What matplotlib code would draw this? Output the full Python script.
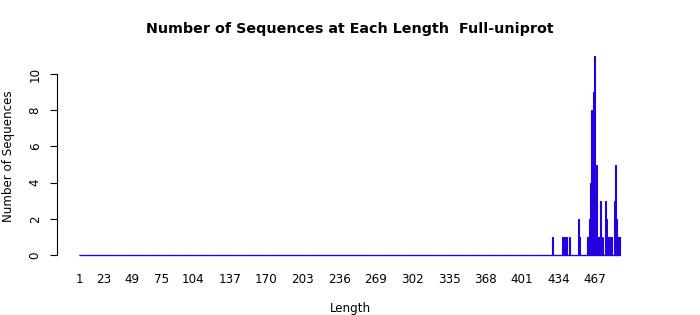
import numpy as np
import matplotlib
matplotlib.use('Agg')
import matplotlib.pyplot as plt

# sequence lengths that occur, and how many sequences have each length
lengths = [428, 437, 438, 439, 441, 444, 452, 453, 460, 461, 462, 463, 464,
           465, 466, 467, 468, 469, 470, 471, 472, 473, 474, 476, 477, 478,
           479, 480, 481, 482, 484, 485, 486, 487, 488, 489]
counts = [1, 1, 1, 1, 1, 1, 2, 1, 1, 1, 2, 4, 8,
          9, 11, 3, 5, 1, 1, 1, 3, 1, 1, 3, 2, 1,
          1, 1, 1, 1, 3, 5, 2, 1, 1, 1]
max_len = 489

# tick labels kept by the original barplot
xtick_labels = [1, 23, 49, 75, 104, 137, 170, 203, 236, 269, 302, 335, 368,
                401, 434, 467]
yticks = [0, 2, 4, 6, 8, 10]

# full table 1..max_len, zero where no sequence has that length
all_lengths = np.arange(1, max_len + 1)
all_counts = np.zeros(max_len)
for L, c in zip(lengths, counts):
    all_counts[L - 1] = c

W, H = 700, 315
fig = plt.figure(figsize=(7, 3.15), dpi=100)
ax = fig.add_axes([57 / W, (H - 262) / H, 586 / W, 212 / H])

blue = '#2200e0'
bar_w = 0.83
ax.bar(all_lengths, all_counts, width=bar_w, color=blue, edgecolor=blue,
       linewidth=0.8)
# zero-height bars collapse to a line along the base
ax.hlines(0, all_lengths[0] - bar_w / 2, all_lengths[-1] + bar_w / 2,
          color=blue, linewidth=0.9)

ax.set_xlim(-19.14, 510.1)
ax.set_ylim(-0.387, 11.33)

for s in ['top', 'right', 'bottom']:
    ax.spines[s].set_visible(False)
ax.spines['left'].set_bounds(0, 10)
ax.spines['left'].set_linewidth(0.8)

fs = 8.6
ax.set_xticks(xtick_labels)
ax.set_xticklabels([str(v) for v in xtick_labels], fontsize=fs)
ax.tick_params(axis='x', length=0, pad=8)

ax.set_yticks(yticks)
ax.set_yticklabels([str(v) for v in yticks], fontsize=fs, rotation=90,
                   va='center')
ax.tick_params(axis='y', length=5, width=0.8, pad=6)

ax.set_ylabel('Number of Sequences', fontsize=fs)
ax.yaxis.set_label_coords(-0.071, 0.5)
ax.set_xlabel('Length', fontsize=fs)
ax.xaxis.set_label_coords(0.5, -0.19)

fig.text(0.5, 1 - 29 / H, 'Number of Sequences at Each Length  Full-uniprot',
         ha='center', va='center', fontsize=10.3, fontweight='bold')

fig.savefig('out.png', dpi=100)
